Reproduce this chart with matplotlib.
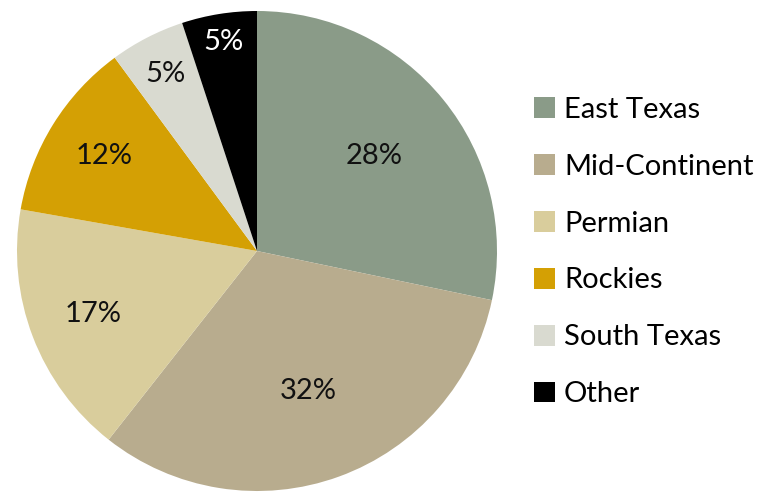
import numpy as np
import matplotlib.pyplot as plt
from matplotlib.patches import Patch

# share of production by region
regions = ["East Texas", "Mid-Continent", "Permian", "Rockies", "South Texas", "Other"]
shares = [28, 32, 17, 12, 5, 5]
colors = ["#8a9b88", "#b8ac8e", "#d9cd9c", "#d4a004", "#d9dad0", "#000000"]

plt.rcParams['font.family'] = ['Lato', 'DejaVu Sans']

fig = plt.figure(figsize=(7.82, 4.92), dpi=100)
ax = fig.add_axes([17 / 782, 1 / 492, 480 / 782, 480 / 492])

wedges, texts, autotexts = ax.pie(
    shares, colors=colors, startangle=90, counterclock=False,
    autopct=lambda p: "", radius=1.0)
ax.set_xlim(-1, 1)
ax.set_ylim(-1, 1)
ax.set_aspect('equal')

# label radius per wedge, the small slices sit closer to the rim
label_r = [0.63, 0.62, 0.73, 0.75, 0.83, 0.88]
for w, val, r, col in zip(wedges, shares, label_r, colors):
    mid = np.deg2rad((w.theta1 + w.theta2) / 2)
    txt_color = "white" if col == "#000000" else "#111111"
    ax.text(r * np.cos(mid), r * np.sin(mid), f"{val}%", ha="center", va="center",
            fontsize=21, color=txt_color)

handles = [Patch(facecolor=c, edgecolor="none") for c in colors]
fig.legend(handles, regions, loc="center left", bbox_to_anchor=(508 / 782, 240 / 492),
           frameon=False, fontsize=21, handlelength=0.72, handleheight=0.72,
           handletextpad=0.3, labelspacing=1.06)

fig.savefig("out.png", dpi=100)
